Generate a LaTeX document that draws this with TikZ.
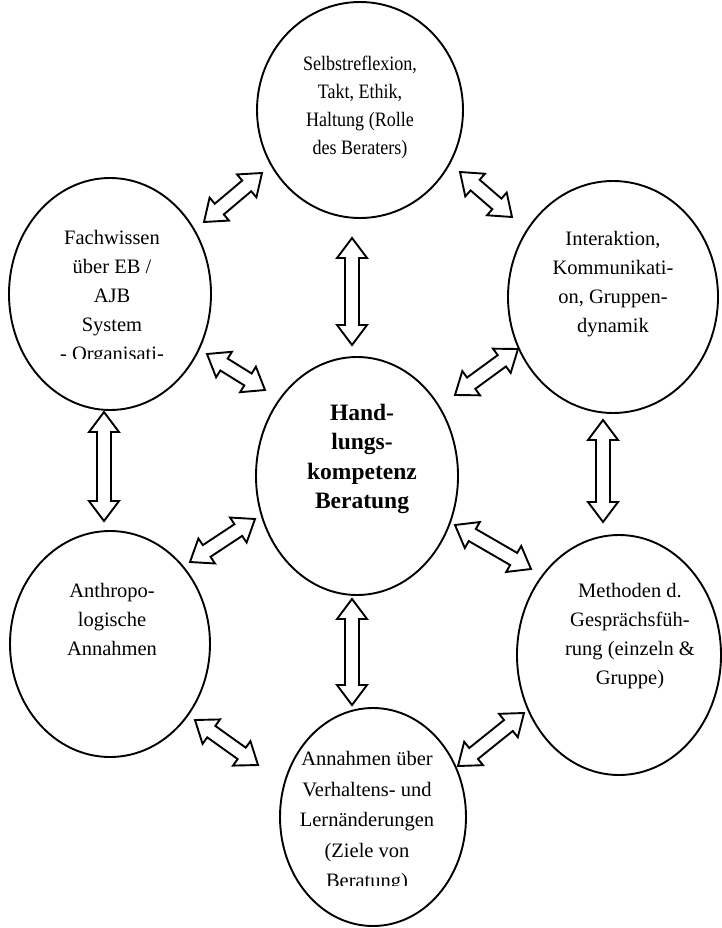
\documentclass[tikz,border=0pt]{standalone}
\usepackage{fontspec}
\setmainfont{Liberation Serif}
\newfontfamily\narrowserif[FakeStretch=0.88]{Liberation Serif}
\usetikzlibrary{shapes.geometric,calc}
\tikzset{
  ring/.style={draw, ellipse, line width=1.9pt, inner sep=0pt},
  label text/.style={align=center, inner sep=0pt, font=\fontsize{20.5}{29}\selectfont},
  blockarrow/.style={draw, line width=1.9pt, fill=white, line join=miter},
}
% hollow two-headed block arrow between two named tips
\newcommand{\twowayarrow}[2]{%
  \draw[blockarrow] (#1)
    -- ($(#1)!20pt!(#2)!15pt!90:(#2)$)
    -- ($(#1)!20pt!(#2)!7pt!90:(#2)$)
    -- ($(#2)!20pt!(#1)!7pt!-90:(#1)$)
    -- ($(#2)!20pt!(#1)!15pt!-90:(#1)$)
    -- (#2)
    -- ($(#2)!20pt!(#1)!15pt!90:(#1)$)
    -- ($(#2)!20pt!(#1)!7pt!90:(#1)$)
    -- ($(#1)!20pt!(#2)!7pt!-90:(#2)$)
    -- ($(#1)!20pt!(#2)!15pt!-90:(#2)$)
    -- cycle;}
\begin{document}
\begin{tikzpicture}[x=1pt, y=-1pt]
\useasboundingbox (0,0) rectangle (722,928);
\clip (0,0) rectangle (722,928);

% the seven topic circles
\node[ring, minimum width=206pt, minimum height=216pt] (T)  at (360,110) {};
\node[ring, minimum width=202pt, minimum height=232pt] (LU) at (110,294) {};
\node[ring, minimum width=210pt, minimum height=232pt] (RU) at (613,297) {};
\node[ring, minimum width=202pt, minimum height=238pt] (C)  at (357,476) {};
\node[ring, minimum width=200pt, minimum height=226pt] (LL) at (110,644) {};
\node[ring, minimum width=204pt, minimum height=240pt] (RL) at (619,655) {};
\node[ring, minimum width=186pt, minimum height=218pt] (B)  at (373,817) {};

% circle texts
\node[label text, font=\narrowserif\fontsize{20.5}{28.3}\selectfont] (tT) at (360,107.5)
  {Selbstreflexion,\\Takt, Ethik,\\Haltung (Rolle\\des Beraters)};
\begin{scope}
  \clip (0,170) rectangle (722,358);
  \node[label text] (tLU) at (112,297.5)
    {Fachwissen\\über EB /\\AJB\\System\\- Organisati-};
\end{scope}
\node[label text] (tRU) at (613,284)
  {Interaktion,\\Kommunikati-\\on, Gruppen-\\dynamik};
\node[label text, font=\bfseries\fontsize{23.5}{29.4}\selectfont] (tC) at (362,459)
  {Hand-\\lungs-\\kompetenz\\Beratung};
\node[label text] (tLL) at (112,619)
  {Anthropo-\\logische\\Annahmen};
\node[label text] (tRL) at (630,636)
  {Methoden d.\\Gesprächsfüh-\\rung (einzeln \&\\Gruppe)};
\begin{scope}
  \clip (0,690) rectangle (722,885);
  \node[label text, font=\fontsize{20.5}{30.5}\selectfont] (tB) at (367,822)
    {Annahmen über\\Verhaltens- und\\Lernänderungen\\(Ziele von\\Beratung)};
\end{scope}

% arrow tips
\coordinate (a1s) at (204,222);  \coordinate (a1e) at (262,173);
\coordinate (a2s) at (460,172);  \coordinate (a2e) at (512,217);
\coordinate (a3s) at (352,238);  \coordinate (a3e) at (352,345);
\coordinate (a4s) at (207,354);  \coordinate (a4e) at (265,390);
\coordinate (a5s) at (455,395);  \coordinate (a5e) at (518,349);
\coordinate (a6s) at (104,412);  \coordinate (a6e) at (104,521);
\coordinate (a7s) at (603,420);  \coordinate (a7e) at (603,522);
\coordinate (a8s) at (190,562);  \coordinate (a8e) at (255,519);
\coordinate (a9s) at (455,525);  \coordinate (a9e) at (531,569);
\coordinate (a10s) at (352,599); \coordinate (a10e) at (352,705);
\coordinate (a11s) at (195,720); \coordinate (a11e) at (258,765);
\coordinate (a12s) at (458,766); \coordinate (a12e) at (524,713);

% two-way arrows between the circles
\twowayarrow{a1s}{a1e}
\twowayarrow{a2s}{a2e}
\twowayarrow{a3s}{a3e}
\twowayarrow{a4s}{a4e}
\twowayarrow{a5s}{a5e}
\twowayarrow{a6s}{a6e}
\twowayarrow{a7s}{a7e}
\twowayarrow{a8s}{a8e}
\twowayarrow{a9s}{a9e}
\twowayarrow{a10s}{a10e}
\twowayarrow{a11s}{a11e}
\twowayarrow{a12s}{a12e}
\end{tikzpicture}
\end{document}
